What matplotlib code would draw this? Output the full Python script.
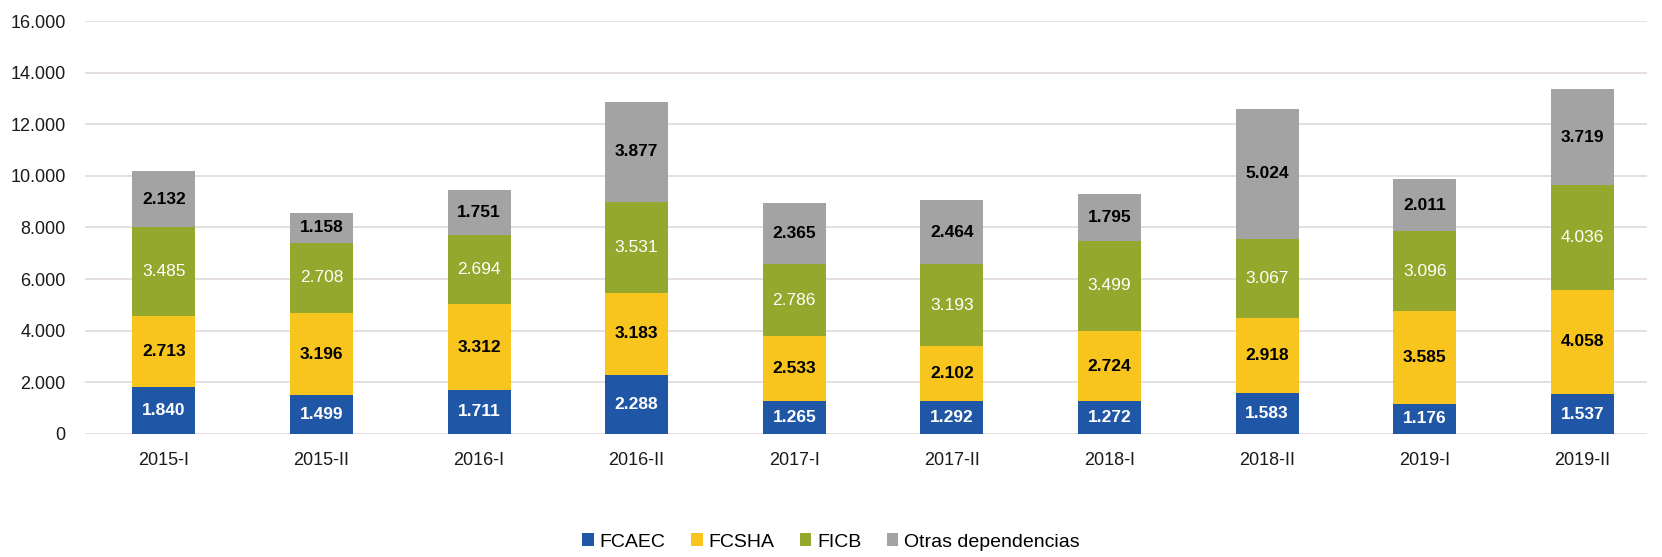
import matplotlib
matplotlib.use("Agg")
import matplotlib.pyplot as plt
from matplotlib import font_manager
from matplotlib.ticker import FuncFormatter

periods = ["2015-I", "2015-II", "2016-I", "2016-II", "2017-I",
           "2017-II", "2018-I", "2018-II", "2019-I", "2019-II"]
fcaec = [1840, 1499, 1711, 2288, 1265, 1292, 1272, 1583, 1176, 1537]
fcsha = [2713, 3196, 3312, 3183, 2533, 2102, 2724, 2918, 3585, 4058]
ficb = [3485, 2708, 2694, 3531, 2786, 3193, 3499, 3067, 3096, 4036]
otras = [2132, 1158, 1751, 3877, 2365, 2464, 1795, 5024, 2011, 3719]
series_names = ["FCAEC", "FCSHA", "FICB", "Otras dependencias"]
y_ticks = [0, 2000, 4000, 6000, 8000, 10000, 12000, 14000, 16000]

colors = ["#1f57a6", "#f7c51e", "#93a82c", "#a3a3a3"]
label_colors = ["white", "black", "white", "black"]
label_weights = ["bold", "bold", "normal", "bold"]

available = {f.name for f in font_manager.fontManager.ttflist}
family = "Liberation Sans Narrow" if "Liberation Sans Narrow" in available else "Liberation Sans"
plt.rcParams["font.family"] = [family, "DejaVu Sans"]


def thousands(v, _pos=None):
    return f"{int(v):,}".replace(",", ".")


fig = plt.figure(figsize=(16.62, 5.57), dpi=100)
ax = fig.add_axes([85 / 1662, 1 - 434 / 557, (1647 - 85) / 1662, (434 - 21) / 557])

x = list(range(len(periods)))
bottom = [0] * len(periods)
for vals, name, col, lc, lw in zip([fcaec, fcsha, ficb, otras], series_names,
                                   colors, label_colors, label_weights):
    ax.bar(x, vals, width=0.4, bottom=bottom, color=col, label=name, zorder=3)
    for xi, b, v in zip(x, bottom, vals):
        ax.text(xi, b + v / 2, thousands(v), ha="center", va="center",
                color=lc, fontsize=12.5, fontweight=lw, zorder=4)
    bottom = [b + v for b, v in zip(bottom, vals)]

ax.set_xlim(-0.5, 9.41)
ax.set_ylim(0, 16000)
ax.set_yticks(y_ticks)
ax.yaxis.set_major_formatter(FuncFormatter(thousands))
ax.set_xticks(x)
ax.set_xticklabels(periods)
ax.grid(axis="y", color="#e2d9d9", linewidth=1.2, zorder=0)
for s in ax.spines.values():
    s.set_visible(False)
ax.tick_params(axis="both", length=0, labelsize=13, colors="#1a1a1a")
ax.tick_params(axis="x", pad=13)
ax.tick_params(axis="y", pad=14)

fig.legend(loc="center", bbox_to_anchor=(0.5, 1 - 542 / 557), ncol=4, frameon=False,
           fontsize=14, handlelength=0.6, handleheight=0.6, handletextpad=0.3,
           columnspacing=1.3)

fig.savefig("out.png", dpi=100, facecolor="white")
